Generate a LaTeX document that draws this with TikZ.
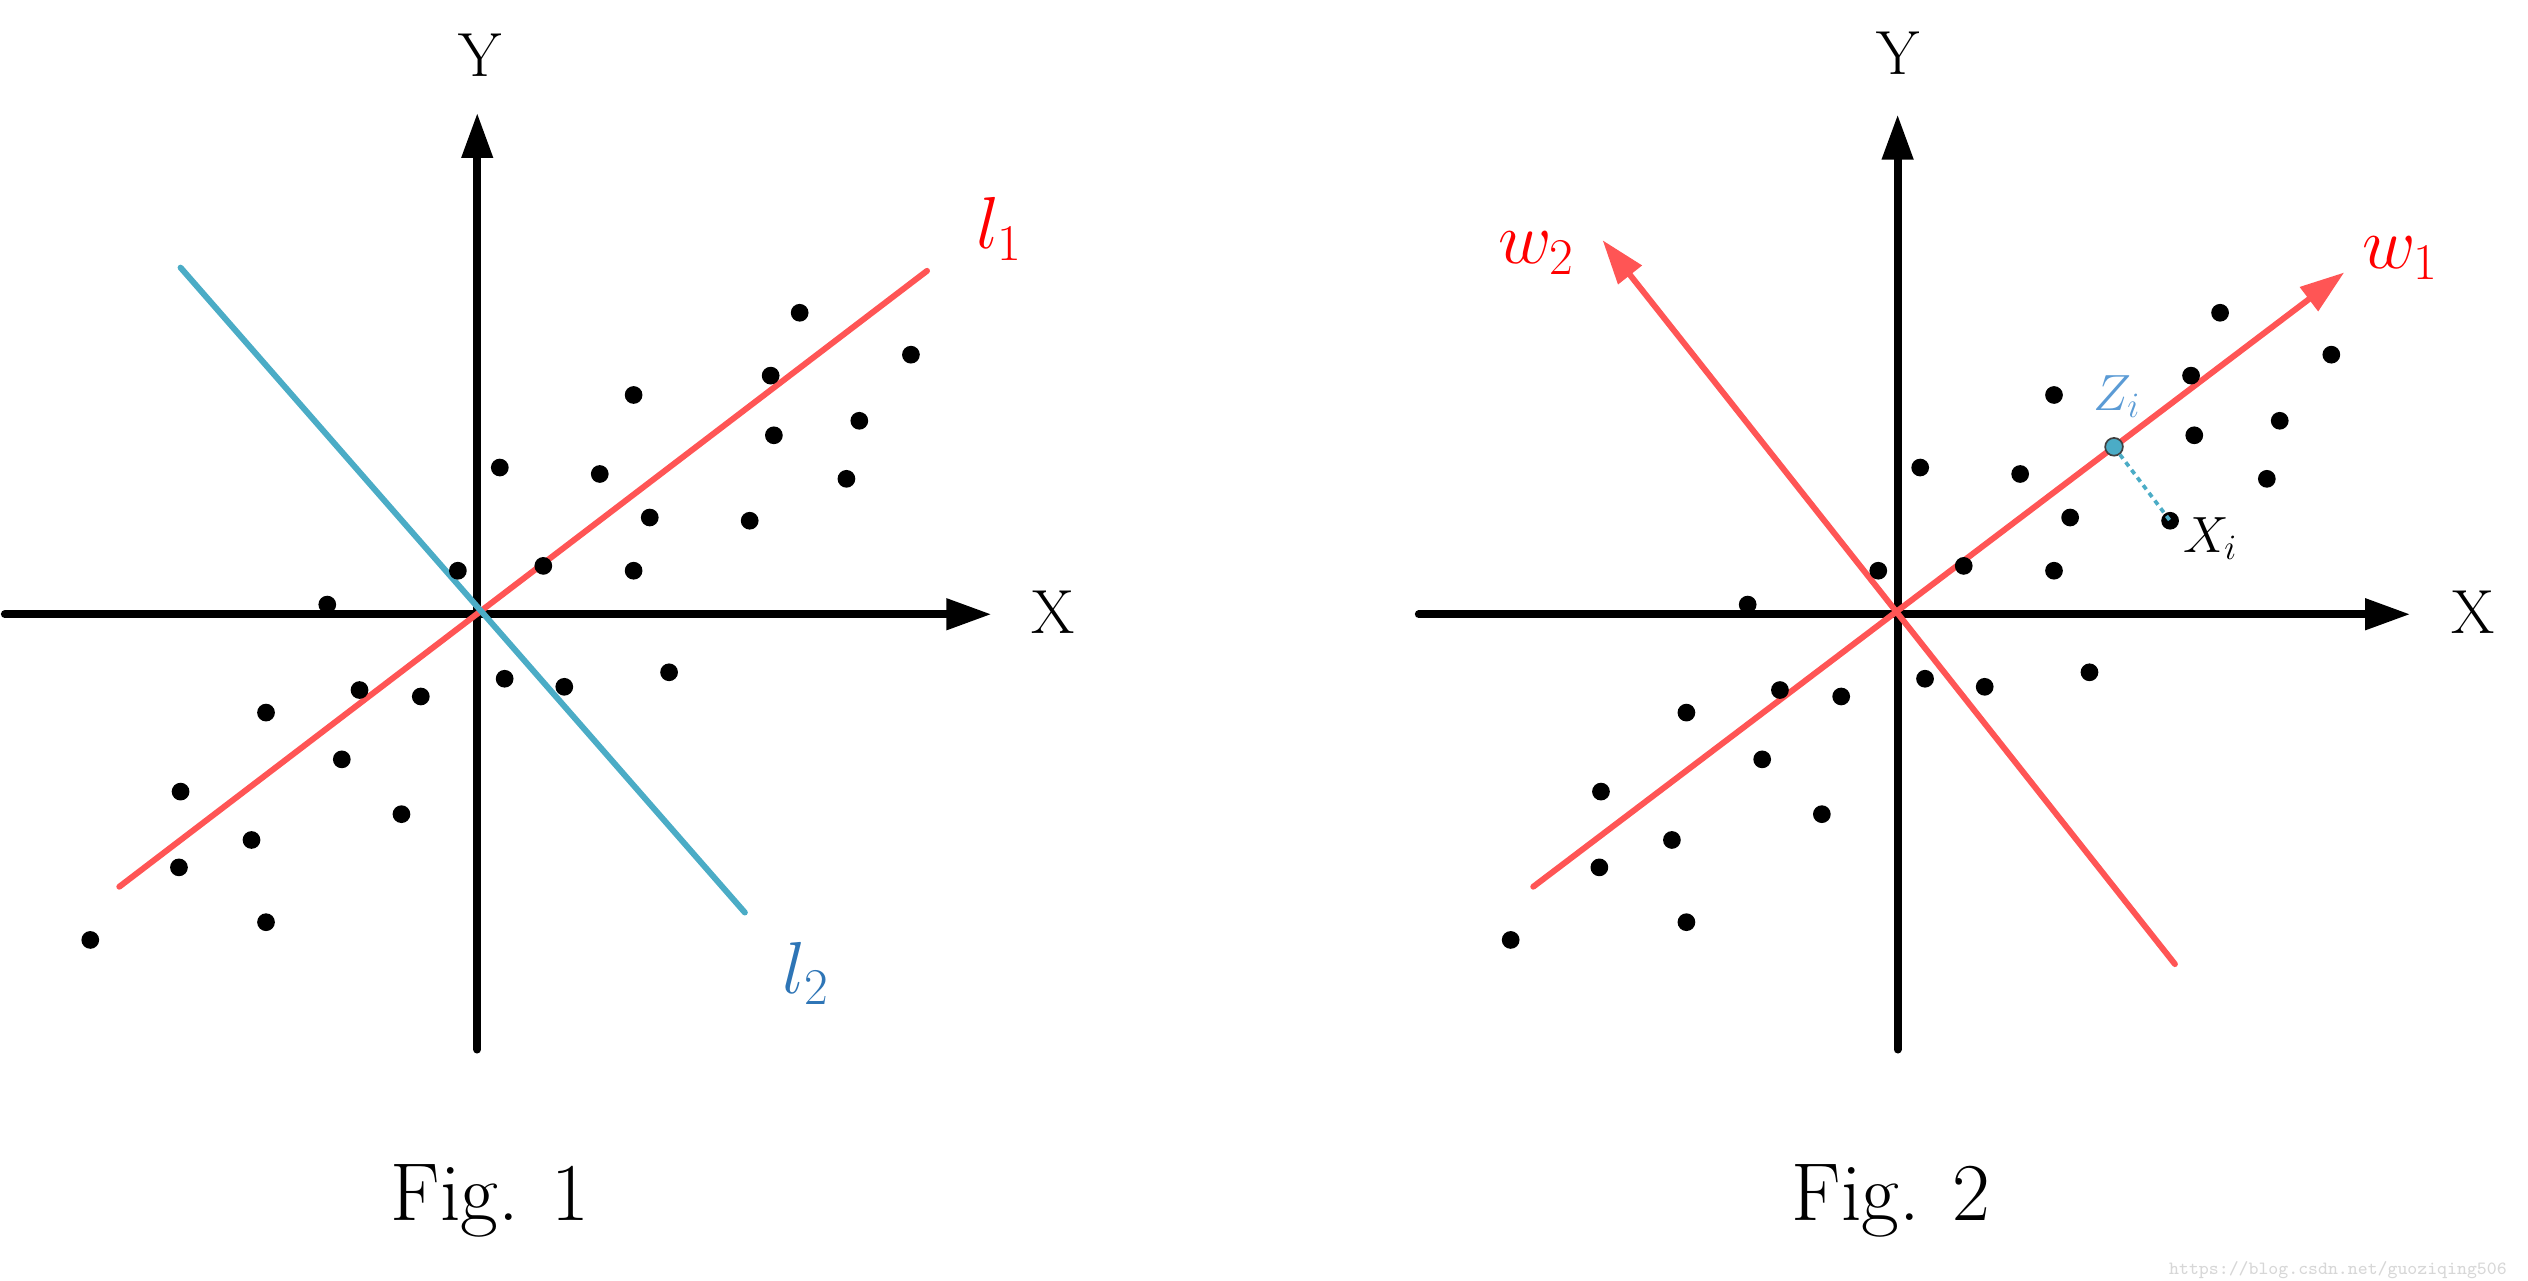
\RequirePackage{fix-cm}
\documentclass[tikz,border=0pt]{standalone}
\usepackage{amsmath,amssymb}
\usepackage{fontspec}
\usepackage{tikz}
\usetikzlibrary{arrows.meta,positioning,calc}

\definecolor{linered}{RGB}{255,85,85}
\definecolor{linecyan}{RGB}{75,172,198}
\definecolor{labelred}{RGB}{255,0,0}
\definecolor{labelblue}{RGB}{46,117,182}
\definecolor{zblue}{RGB}{91,155,213}
\definecolor{marklight}{RGB}{215,215,215}

% the same cloud of points in both figures, relative to the origin
\def\pcloud{-240/-202, -185/-157, -184/-110, -140/-140, -131/-191, -131/-61,
  -84/-90, -73/-47, -47/-124, -35/-51, -93/6, -12/27, 17/-40, 54/-45, 119/-36,
  14/91, 41/30, 76/87, 97/136, 107/60, 97/27, 169/58, 182/148, 184/111,
  200/187, 229/84, 237/120, 269/161}

\begin{document}
\begin{tikzpicture}[
  x=0.02cm, y=0.02cm,
  axis/.style={line width=2.8pt, line cap=round, -{Triangle[length=5.6mm, width=3.7mm]}},
  fitline/.style={line width=2.1pt, line cap=round},
  arrow/.style={fitline, -{Triangle[length=5.5mm, width=3.6mm]}},
  dot/.style={circle, fill, inner sep=0pt, minimum size=2.2mm},
  zdot/.style={circle, fill=linecyan, draw=black!75, line width=0.6pt, inner sep=0pt, minimum size=2.2mm},
  axlabel/.style={font=\fontsize{22}{26}\selectfont},
  linelabel/.style={font=\fontsize{26}{30}\selectfont},
  ptlabel/.style={font=\fontsize{18}{21}\selectfont},
  caption/.style={font=\fontsize{29}{34}\selectfont, anchor=base}]

\useasboundingbox (0,0) rectangle (1568,794);

% Fig. 1
\begin{scope}[shift={(296,413)}]
\coordinate (xs1) at (-293,0);
\coordinate (xe1) at (319,0);
\coordinate (ys1) at (0,-270);
\coordinate (ye1) at (0,311);
\draw[axis] (xs1) -- (xe1);
\draw[axis] (ys1) -- (ye1);
\node[axlabel] (xlab1) at (357,1) {X};
\node[axlabel] (ylab1) at (2,347) {Y};

\coordinate (l1s) at (-222,-169);
\coordinate (l1e) at (279,213);
\coordinate (l2s) at (-184,215);
\coordinate (l2e) at (166,-185);
\draw[fitline, linered] (l1s) -- (l1e);
\draw[fitline, linecyan] (l2s) -- (l2e);
\node[linelabel, text=labelred] (l1lab) at (324,239) {$l_1$};
\node[linelabel, text=labelblue] (l2lab) at (204,-223) {$l_2$};

\foreach \px/\py [count=\i] in \pcloud
  \node[dot] (a\i) at (\px,\py) {};

\node[caption] (cap1) at (8,-376) {Fig. 1};
\end{scope}

% Fig. 2
\begin{scope}[shift={(1177,413)}]
\coordinate (xs2) at (-297,0);
\coordinate (xe2) at (318,0);
\coordinate (ys2) at (0,-270);
\coordinate (ye2) at (0,310);
\draw[axis] (xs2) -- (xe2);
\draw[axis] (ys2) -- (ye2);
\node[axlabel] (xlab2) at (357,1) {X};
\node[axlabel] (ylab2) at (0,348) {Y};

\coordinate (w1s) at (-226,-169);
\coordinate (w1e) at (277,212);
\coordinate (w2s) at (172,-217);
\coordinate (w2e) at (-183,232);
\draw[arrow, linered] (w1s) -- (w1e);
\draw[arrow, linered] (w2s) -- (w2e);
\node[linelabel, text=labelred] (w1lab) at (312,221) {$w_1$};
\node[linelabel, text=labelred] (w2lab) at (-224,224) {$w_2$};

\foreach \px/\py [count=\i] in \pcloud
  \node[dot] (b\i) at (\px,\py) {};

% projection of X_i on w_1
\node[zdot] (zi) at ($(w1s)!(b22)!(w1e)$) {};
\draw[linecyan, line width=1.3pt, dash pattern=on 1.8pt off 1.6pt] (zi) -- (b22.center);
\node[ptlabel, text=zblue] (zlab) at (136,135) {$Z_i$};
\node[ptlabel] (xilab) at (194,47) {$X_i$};

\node[caption] (cap2) at (-4,-376) {Fig. 2};
\end{scope}

\node[anchor=east, text=marklight, font=\ttfamily\fontsize{6.6}{8}\selectfont] (mark) at (1561,6) {https://blog.csdn.net/guoziqing506};

\end{tikzpicture}
\end{document}
